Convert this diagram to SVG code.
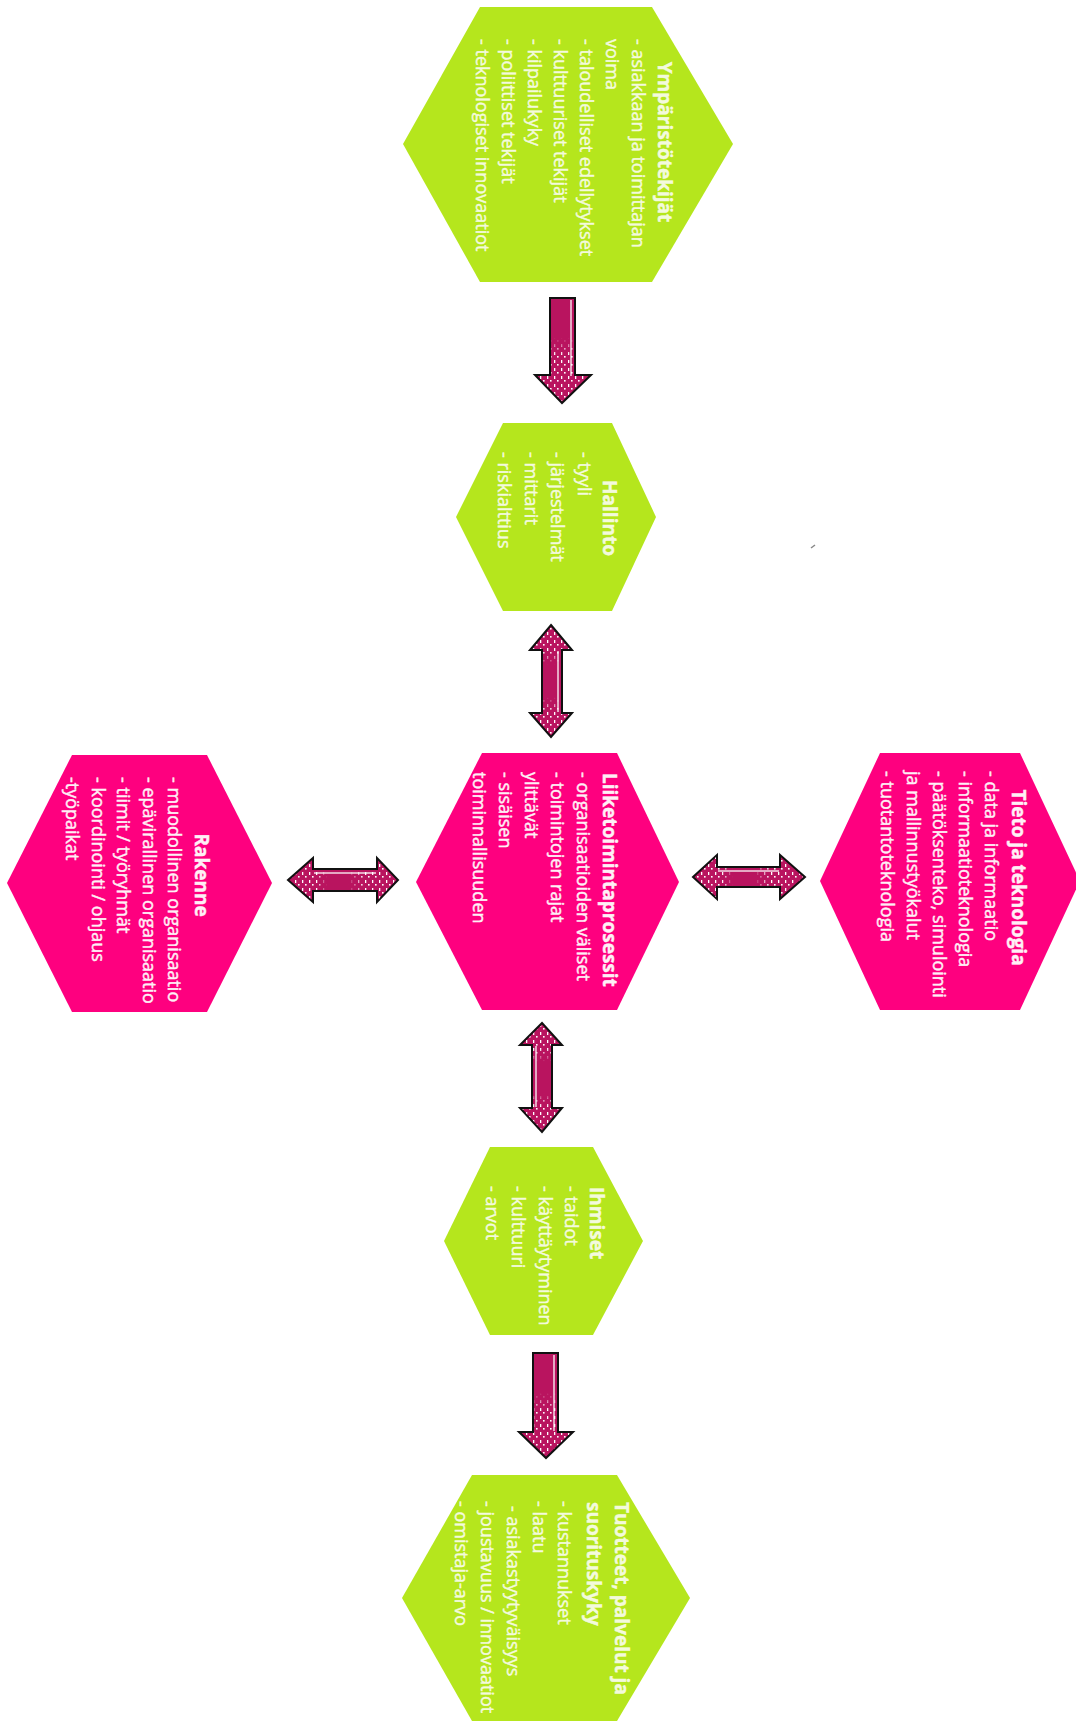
<svg xmlns="http://www.w3.org/2000/svg" width="1076" height="1722" viewBox="0 0 1076 1722">
<style>
.hexg{fill:#b5e61d}
.hexp{fill:#fe007f}
.t{font-family:"Open Sans","Noto Sans",sans-serif;font-size:18px;stroke-width:0.45px}
.tg{fill:#f3fadc;stroke:#f3fadc}
.tp{fill:#fff0f6;stroke:#fff0f6}
.ttl{font-weight:bold;font-size:19px}
.arr{fill:#b9145f;stroke:#111;stroke-width:2;stroke-linejoin:miter}
.tex{fill:url(#dots);stroke:none}
.hl{stroke:#fff;stroke-width:1.5;fill:none;opacity:0.85}
</style>
<defs>
<pattern id="dots" width="7" height="8" patternUnits="userSpaceOnUse">
<rect x="1" y="0" width="1.3" height="3" fill="#fff"/>
<rect x="4" y="4" width="1.6" height="1.6" fill="#fff"/>
</pattern>
<linearGradient id="gDown" x1="0" y1="0" x2="0" y2="1">
<stop offset="0.38" stop-color="#000"/><stop offset="0.55" stop-color="#fff"/><stop offset="1" stop-color="#fff"/>
</linearGradient>
<linearGradient id="gV" x1="0" y1="0" x2="0" y2="1">
<stop offset="0" stop-color="#fff"/><stop offset="0.22" stop-color="#fff"/><stop offset="0.35" stop-color="#000"/><stop offset="0.65" stop-color="#000"/><stop offset="0.78" stop-color="#fff"/><stop offset="1" stop-color="#fff"/>
</linearGradient>
<linearGradient id="gH" x1="0" y1="0" x2="1" y2="0">
<stop offset="0" stop-color="#fff"/><stop offset="0.25" stop-color="#fff"/><stop offset="0.35" stop-color="#000"/><stop offset="0.55" stop-color="#000"/><stop offset="0.7" stop-color="#fff"/><stop offset="1" stop-color="#fff"/>
</linearGradient>
<mask id="mDown" maskContentUnits="objectBoundingBox"><rect width="1" height="1" fill="url(#gDown)"/></mask>
<mask id="mV" maskContentUnits="objectBoundingBox"><rect width="1" height="1" fill="url(#gV)"/></mask>
<mask id="mH" maskContentUnits="objectBoundingBox"><rect width="1" height="1" fill="url(#gH)"/></mask>
</defs>
<rect width="1076" height="1722" fill="#fff"/>

<g id="connectors">
 <g id="arrow-ymparisto-hallinto">
  <path class="arr" d="M550,298 H575 V375 H591 L562,403 L535,375 H550 Z"/>
  <path class="tex" mask="url(#mDown)" d="M551,299 H574 V376 H589 L562,401 L537,376 H551 Z"/>
  <path class="hl" d="M571,300 V376"/>
 </g>
 <g id="arrow-hallinto-liiketoiminta">
  <path class="arr" d="M551,625 L572,650 H562 V713 H572 L551,737 L530,713 H542 V650 H530 Z"/>
  <path class="tex" mask="url(#mV)" d="M551,627 L570,649 H561 V714 H570 L551,735 L532,714 H543 V649 H532 Z"/>
  <path class="hl" d="M558,651 V712"/>
 </g>
 <g id="arrow-rakenne-liiketoiminta">
  <path class="arr" d="M288,880 L313,858 V869 H377 V858 L398,880 L377,902 V891 H313 V902 Z"/>
  <path class="tex" mask="url(#mH)" d="M290,880 L312,860 V870 H378 V860 L396,880 L378,900 V890 H312 V900 Z"/>
  <path class="hl" d="M314,873 H376"/>
 </g>
 <g id="arrow-liiketoiminta-tieto">
  <path class="arr" d="M693,877 L717,855 V867 H780 V855 L805,877 L780,899 V887 H717 V899 Z"/>
  <path class="tex" mask="url(#mH)" d="M695,877 L716,857 V868 H781 V857 L803,877 L781,897 V886 H716 V897 Z"/>
  <path class="hl" d="M718,871 H779"/>
 </g>
 <g id="arrow-liiketoiminta-ihmiset">
  <path class="arr" d="M542,1023 L562,1045 H552 V1108 H562 L542,1132 L520,1108 H532 V1045 H520 Z"/>
  <path class="tex" mask="url(#mV)" d="M542,1025 L560,1044 H551 V1109 H560 L542,1130 L522,1109 H533 V1044 H522 Z"/>
  <path class="hl" d="M536,1046 V1107"/>
 </g>
 <g id="arrow-ihmiset-tuotteet">
  <path class="arr" d="M533,1353 H558 V1432 H573 L546,1458 L519,1432 H533 Z"/>
  <path class="tex" mask="url(#mDown)" d="M534,1354 H557 V1433 H571 L546,1456 L521,1433 H534 Z"/>
  <path class="hl" d="M554,1355 V1431"/>
 </g>
</g>

<g id="node-ymparistotekijat">
 <polygon class="hexg" points="403,144 480,7 652,7 733,144 652,282 480,282"/>
 <g transform="translate(568,144) rotate(90)" class="t tg">
  <text class="ttl" x="-2" y="-90" text-anchor="middle">Ympäristötekijät</text>
  <text x="-105" y="-64">- asiakkaan ja toimittajan</text>
  <text x="-105" y="-38">voima</text>
  <text x="-105" y="-12">- taloudelliset edellytykset</text>
  <text x="-105" y="14">- kulttuuriset tekijät</text>
  <text x="-105" y="40">- kilpailukyky</text>
  <text x="-105" y="66">- poliittiset tekijät</text>
  <text x="-105" y="92">- teknologiset innovaatiot</text>
 </g>
</g>

<g id="node-hallinto">
 <polygon class="hexg" points="456,517 503,423 612,423 656,517 612,611 503,611"/>
 <g transform="translate(556,517) rotate(90)" class="t tg">
  <text class="ttl" x="1" y="-47" text-anchor="middle">Hallinto</text>
  <text x="-65" y="-21.5">- tyyli</text>
  <text x="-65" y="5">- järjestelmät</text>
  <text x="-65" y="31.5">- mittarit</text>
  <text x="-65" y="58">- riskialttius</text>
 </g>
</g>

<g id="node-liiketoimintaprosessit">
 <polygon class="hexp" points="416,882 482,753 617,753 679,882 617,1010 482,1010"/>
 <g transform="translate(548,881) rotate(90)" class="t tp">
  <text class="ttl" x="-108" y="-55">Liiketoimintaprosessit</text>
  <text x="-109" y="-29">- organisaatioiden väliset</text>
  <text x="-109" y="-3">- toimintojen rajat</text>
  <text x="-109" y="23">ylittävät</text>
  <text x="-109" y="49">- sisäisen</text>
  <text x="-109" y="75">toiminnallisuuden</text>
 </g>
</g>

<g id="node-rakenne">
 <polygon class="hexp" points="7,883 72,755 207,755 272,883 207,1012 72,1012"/>
 <g transform="translate(139.5,883) rotate(90)" class="t tp">
  <text class="ttl" x="-8" y="-55.5" text-anchor="middle">Rakenne</text>
  <text x="-106" y="-28.5">- muodollinen organisaatio</text>
  <text x="-106" y="-3">- epävirallinen organisaatio</text>
  <text x="-106" y="22.5">- tiimit / työryhmät</text>
  <text x="-106" y="48">- koordinointi / ohjaus</text>
  <text x="-106" y="74">-työpaikat</text>
 </g>
</g>

<g id="node-tieto-ja-teknologia">
 <polygon class="hexp" points="820,881 880,753 1020,753 1080,881 1020,1010 880,1010"/>
 <g transform="translate(950,881) rotate(90)" class="t tp">
  <text class="ttl" x="-3.5" y="-62" text-anchor="middle">Tieto ja teknologia</text>
  <text x="-110" y="-35">- data ja informaatio</text>
  <text x="-110" y="-9">- informaatioteknologia</text>
  <text x="-110" y="17">- päätöksenteko, simulointi</text>
  <text x="-110" y="43">ja mallinnustyökalut</text>
  <text x="-110" y="69">- tuotantoteknologia</text>
 </g>
</g>

<g id="node-ihmiset">
 <polygon class="hexg" points="444,1241 490,1147 593,1147 643,1241 593,1335 490,1335"/>
 <g transform="translate(543.5,1241) rotate(90)" class="t tg">
  <text class="ttl" x="-54" y="-46.5">Ihmiset</text>
  <text x="-55" y="-21">- taidot</text>
  <text x="-55" y="5">- käyttäytyminen</text>
  <text x="-55" y="31.5">- kulttuuri</text>
  <text x="-55" y="57.5">- arvot</text>
 </g>
</g>

<g id="node-tuotteet">
 <polygon class="hexg" points="402,1598 472,1475 617,1475 690,1598 617,1721 472,1721"/>
 <g transform="translate(545,1598) rotate(90)" class="t tg">
  <text class="ttl" x="-96" y="-70">Tuotteet, palvelut ja</text>
  <text class="ttl" x="-96" y="-42">suorituskyky</text>
  <text x="-97" y="-13">- kustannukset</text>
  <text x="-97" y="12">- laatu</text>
  <text x="-92" y="38">- asiakastyytyväisyys</text>
  <text x="-97" y="64">- joustavuus / innovaatiot</text>
  <text x="-97" y="90">- omistaja-arvo</text>
 </g>
</g>

<path d="M811,548 L815,545" stroke="#888" stroke-width="1.5" fill="none"/>
</svg>
